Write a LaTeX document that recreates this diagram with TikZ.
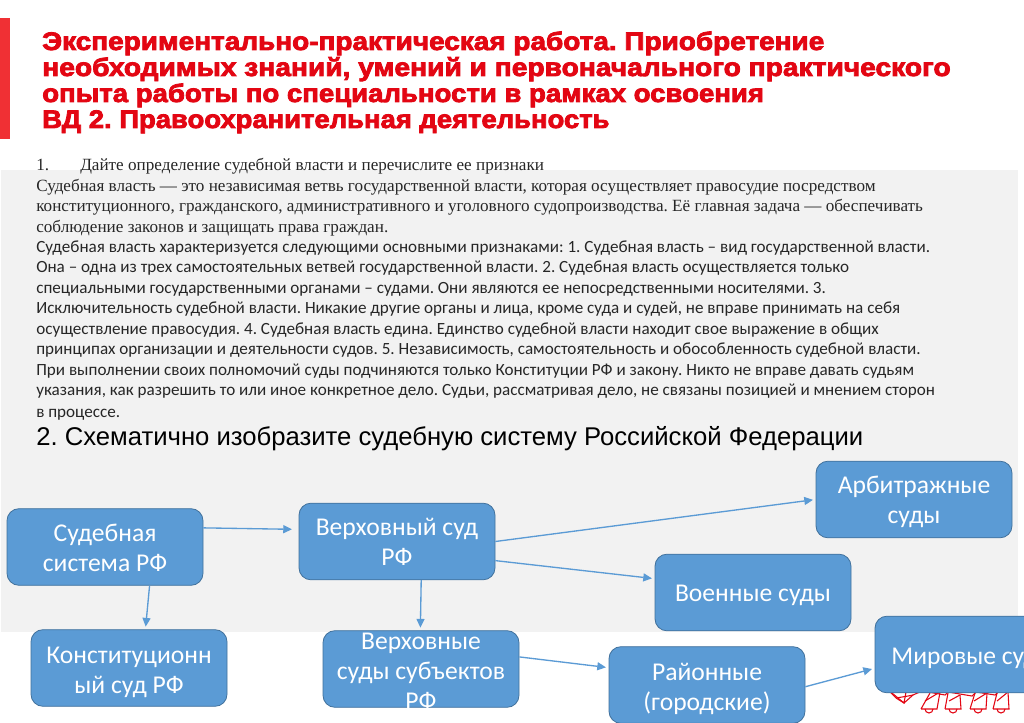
\documentclass[tikz,border=0pt]{standalone}
\usepackage{fontspec}
\usepackage{graphicx}
\setmainfont{Liberation Serif}
\newfontfamily\calfont{Carlito}
\newfontfamily\arsfont{Liberation Sans}
\newfontfamily\titfont[FakeBold=3.2,FakeStretch=1.1]{Liberation Sans Bold}
\usetikzlibrary{arrows.meta}
\AtBeginDocument{\frenchspacing}
\newcommand\dn[1]{\rule{0pt}{\dimexpr12.4pt+#1pt+#1pt\relax}}
\newcommand\sx[2]{\scalebox{#1}[1]{#2}}
\definecolor{blu}{HTML}{5B9BD5}
\definecolor{blud}{HTML}{41719C}
\definecolor{redt}{HTML}{E30613}
\definecolor{redb}{HTML}{F03034}
\definecolor{band}{HTML}{F2F2F2}
\definecolor{bodyt}{HTML}{262626}
\tikzset{
 box/.style={draw=blud,line width=.6pt,fill=blu,rounded corners=9pt,minimum width=147pt,minimum height=57.5pt,inner sep=0pt,text=white,align=center,font=\calfont\fontsize{19.2}{22.7}\selectfont},
 link/.style={draw=blu,line width=1pt,-{Triangle[length=6.5pt,width=6pt]},shorten >=2pt},
 titl/.style={anchor=base west,inner sep=0pt,text=redt,font=\titfont\fontsize{19}{20}\selectfont},
 ser/.style={anchor=base west,inner sep=0pt,text=bodyt,font=\fontsize{12.85}{14}\selectfont},
 sans/.style={anchor=base west,inner sep=0pt,text=bodyt,font=\calfont\fontsize{12.83}{14}\selectfont},
 head/.style={anchor=base west,inner sep=0pt,text=black,font=\arsfont\fontsize{19.25}{22}\selectfont},
 paw/.style={draw=redt,line width=.8pt}
}
\begin{document}
\begin{tikzpicture}[x=.75pt,y=-.75pt]
\useasboundingbox (0,0) rectangle (1024,723);
\begin{scope}
\clip (0,0) rectangle (1024,723);
\fill[white] (0,0) rectangle (1024,723);
\fill[band] (1,170) rectangle (1018,632);
\fill[redb] (0,18) rectangle (10,139);
\node[titl] (t1) at (42,50) {\sx{1.003}{Экспериментально-практическая работа. Приобретение}};
\node[titl] (t2) at (42,76) {\sx{1.011}{необходимых знаний, умений и первоначального практического}};
\node[titl] (t3) at (42,102) {\sx{.989}{опыта работы по специальности в рамках освоения}};
\node[titl] (t4) at (42,128) {\sx{.984}{ВД 2. Правоохранительная деятельность}};
\node[ser] (l0a) at (36,171) {1.};
\node[ser] (l0) at (80,171) {Дайте определение судебной власти и перечислите ее признаки};
\node[ser] (l1) at (36,192) {Судебная власть — это независимая ветвь государственной власти, которая осуществляет правосудие посредством};
\node[ser] (l2) at (36,212) {конституционного, гражданского, административного и уголовного судопроизводства. Её главная задача — обеспечивать};
\node[ser] (l3) at (36,233) {соблюдение законов и защищать права граждан.};
\node[sans] (s1) at (36,253) {Судебная власть характеризуется следующими основными признаками: 1. Судебная власть – вид государственной власти.};
\node[sans] (s2) at (36,273) {Она – одна из трех самостоятельных ветвей государственной власти. 2. Судебная власть осуществляется только};
\node[sans] (s3) at (36,294) {специальными государственными органами – судами. Они являются ее непосредственными носителями. 3.};
\node[sans] (s4) at (36,314) {Исключительность судебной власти. Никакие другие органы и лица, кроме суда и судей, не вправе принимать на себя};
\node[sans] (s5) at (36,335) {осуществление правосудия. 4. Судебная власть едина. Единство судебной власти находит свое выражение в общих};
\node[sans] (s6) at (36,355) {принципах организации и деятельности судов. 5. Независимость, самостоятельность и обособленность судебной власти.};
\node[sans] (s7) at (36,376) {При выполнении своих полномочий суды подчиняются только Конституции РФ и закону. Никто не вправе давать судьям};
\node[sans] (s8) at (36,396) {указания, как разрешить то или иное конкретное дело. Судьи, рассматривая дело, не связаны позицией и мнением сторон};
\node[sans] (s9) at (36,417) {в процессе.};
\node[head] (h2) at (36,445) {2. Схематично изобразите судебную систему Российской Федерации};
% decoration under the last box
\draw[paw] (888,690) -- (896,698) -- (904,703) -- (913,695) -- (922,691);
\draw[paw] (892,693) -- (904,703) -- (906,692);
\draw[paw] (896,698) -- (908,696) -- (913,695);
\draw[paw] (922,691) -- (945,695) -- (948,692) -- (972,696) -- (976,692) -- (995,695) -- (998,692);
\foreach \bx/\tx/\ty/\ux/\uy in {921/930/693/940/692, 945/948/693/960/695, 970/975/693/987/693, 993/997/693/1008/692}{
  \draw[paw] (\bx,709) -- (\tx,\ty) (\ux,\uy) -- ({\bx+16},709) -- (\bx,709);
  \draw[paw] ({\bx+4},709) arc[start angle=180,end angle=0,radius=4];
  \draw[paw] ({\bx+4},701) -- (\ux,\uy);
}
\node[box] (sys) at (105,547) {\dn{.75}Судебная\\система РФ};
\node[box] (vs) at (397,541.5) {Верховный суд\\РФ};
\node[box] (ks) at (129,668) {\dn{3}Конституционн\\ый суд РФ};
\node[box,inner ysep=-8pt] (vss) at (421,669) {\dn{1.5}Верховные\\суды субъектов\\РФ};
\node[box] (arb) at (914,499.5) {\dn{2.25}Арбитражные\\суды};
\node[box] (voen) at (753,592.5) {\dn{2.25}Военные суды};
\node[box] (rai) at (707,685) {\dn{3}Районные\\(городские)};
\node[box] (mir) at (973,654.5) {\dn{2.6}Мировые суды};
\draw[link,shorten >=5pt] (sys.11.5) -- (vs.173.3);
\draw[link] (sys.-41.5) -- (ks.67);
\draw[link] (vs.-58) -- (vss.91.5);
\draw[link] (vs.0) -- (arb.180);
\draw[link] (vs.-11.3) -- (voen.172);
\draw[link] (vss.7.6) -- (rai.170.2);
\draw[link] (rai.-1) -- (mir.188.4);
\end{scope}
\end{tikzpicture}
\end{document}
